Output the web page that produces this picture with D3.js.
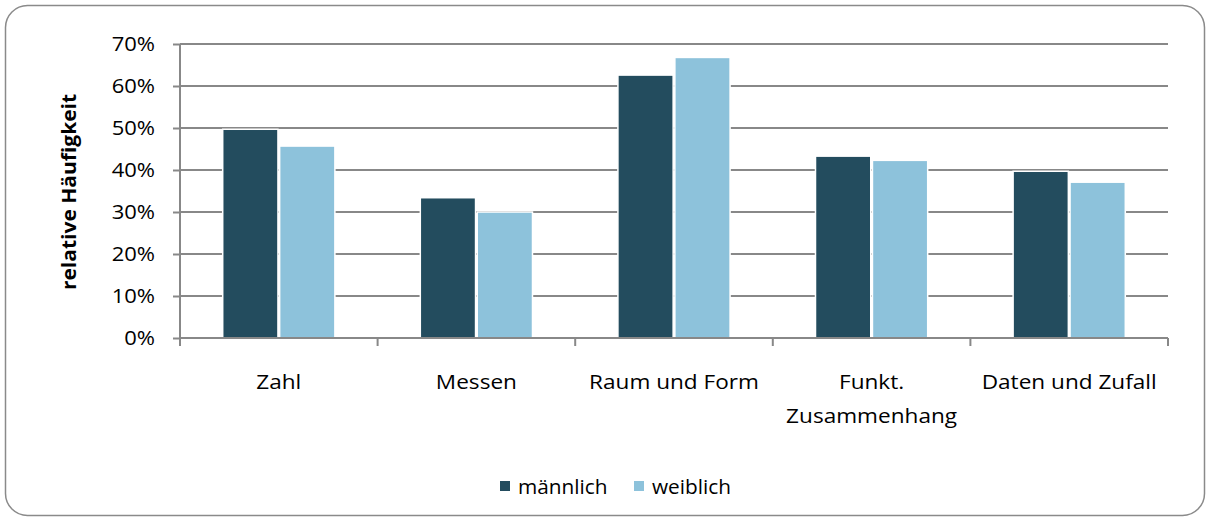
<!DOCTYPE html>
<html><head><meta charset="utf-8">
<script src="https://cdn.jsdelivr.net/npm/d3@7"></script>
<style>body{margin:0;background:#fff}svg{display:block}text{font-family:"Open Sans",sans-serif;fill:#000}</style>
</head><body><svg id="c" width="1210" height="521"></svg>
<script>
const categories = ["Zahl","Messen","Raum und Form","Funkt.\nZusammenhang","Daten und Zufall"];
const series = ["männlich","weiblich"];
const maleValues = [0.497,0.334,0.626,0.433,0.397];
const femaleValues = [0.457,0.300,0.668,0.423,0.371];
const yTicks = [0,0.1,0.2,0.3,0.4,0.5,0.6,0.7];
const colors = ["#234C5E","#8DC2DB"];
const FONT = "'Open Sans', sans-serif";
const FS = "20px";

const svg = d3.select("#c");
svg.append("rect").attr("x",5.5).attr("y",5.5).attr("width",1199).attr("height",510)
  .attr("rx",22).attr("fill","#fff").attr("stroke","#8a8a8a").attr("stroke-width",1.5);

const x0 = 180, x1 = 1168, yTop = 44, yBot = 338;
const x = d3.scaleBand().domain(categories).range([x0,x1]).paddingInner(0).paddingOuter(0);
const xs = d3.scaleBand().domain(series).range([0,x.bandwidth()]).paddingInner(0.03).paddingOuter(0.75);
const y = d3.scaleLinear().domain([0,0.7]).range([yBot,yTop]);

// gridlines
svg.append("g").selectAll("line").data(yTicks.slice(1)).join("line")
  .attr("x1",x0).attr("x2",x1).attr("y1",d=>y(d)).attr("y2",d=>y(d))
  .attr("stroke","#888").attr("stroke-width",2);

// bars
const data = categories.map((c,i)=>({c, vals:[maleValues[i],femaleValues[i]]}));
const g = svg.append("g").selectAll("g").data(data).join("g").attr("transform",d=>`translate(${x(d.c)},0)`);
g.selectAll("rect").data(d=>d.vals.map((v,j)=>({s:series[j],v,j}))).join("rect")
  .attr("x",d=>xs(d.s)).attr("width",xs.bandwidth())
  .attr("y",d=>y(d.v)).attr("height",d=>y(0)-y(d.v))
  .attr("fill",d=>colors[d.j]).attr("stroke","#fff").attr("stroke-width",1.5);

// y axis
const ya = d3.axisLeft(y).tickValues(yTicks).tickFormat(d3.format(".0%")).tickSize(7).tickPadding(0);
const yg = svg.append("g").attr("transform",`translate(${x0},0)`).call(ya);
yg.selectAll("text").style("font-size",FS).style("font-family",FONT)
  .attr("x",0).attr("transform","translate(-25,0) scale(1.1,1)");
yg.selectAll("path,line").attr("stroke","#888").attr("stroke-width",2);
yg.select(".domain").attr("d",`M0,${yTop}V${yBot+4}`);

// x axis
const xa = d3.axisBottom(x).tickSize(0).tickFormat("");
const xg = svg.append("g").attr("transform",`translate(0,${yBot})`).call(xa);
xg.select(".domain").attr("d",`M${x0},0H${x1}`).attr("stroke","#888").attr("stroke-width",2);
const tickPos = categories.map(c=>x(c)).concat([x1]);
xg.selectAll("line.tk").data(tickPos).join("line").attr("class","tk")
  .attr("x1",d=>d).attr("x2",d=>d).attr("y1",0).attr("y2",8).attr("stroke","#888").attr("stroke-width",2);
categories.forEach(c=>{
  const lines = c.split("\n");
  const t = svg.append("text").attr("text-anchor","middle").style("font-size",FS)
    .attr("transform",`translate(${x(c)+x.bandwidth()/2},389) scale(1.13,1)`);
  lines.forEach((l,k)=>t.append("tspan").attr("x",0).attr("dy",k?34:0).text(l));
});

// y title
svg.append("text").attr("transform","translate(76,192) rotate(-90) scale(1.05,1)").attr("text-anchor","middle")
  .style("font-size",FS).style("font-weight","bold").text("relative Häufigkeit");

// legend
const leg = svg.append("g");
const legX = [500,634];
series.forEach((s,i)=>{
  leg.append("rect").attr("x",legX[i]).attr("y",481).attr("width",10).attr("height",10).attr("fill",colors[i]);
  leg.append("text").attr("transform",`translate(${legX[i]+18},494) scale(1.04,1)`).style("font-size",FS).text(s);
});
</script></body></html>
